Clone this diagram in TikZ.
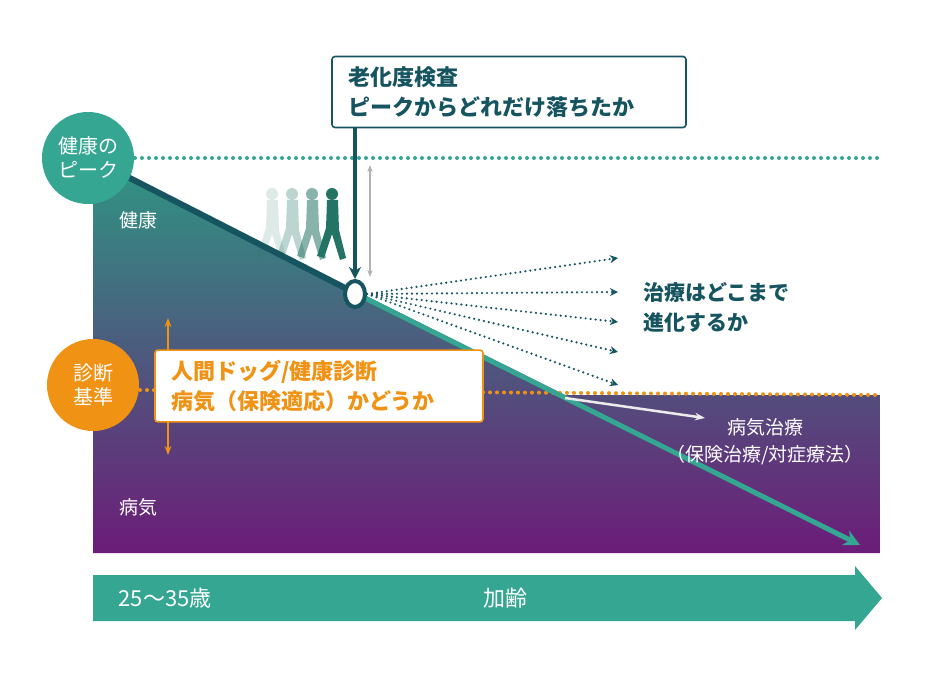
\documentclass[tikz,border=0pt]{standalone}
\usepackage{fontspec}
\setmainfont{Noto Sans CJK JP}
\usetikzlibrary{arrows.meta,positioning,calc,shapes.geometric}
\definecolor{tealA}{RGB}{52,166,146}
\definecolor{tealD}{RGB}{22,84,96}
\definecolor{orgA}{RGB}{240,146,20}
\definecolor{purA}{RGB}{108,28,120}
\definecolor{greyT}{RGB}{70,80,90}

\begin{document}
\begin{tikzpicture}[x=1pt,y=-1pt, every node/.style={font=\fontsize{19}{23}\selectfont},
  badge/.style={circle,minimum size=92pt,inner sep=0pt,align=center,text=white,font=\fontsize{20}{24}\selectfont},
  note/.style={draw,rounded corners=3pt,line width=1.6pt,fill=white,align=left,inner xsep=16pt,inner ysep=10pt,font=\bfseries\fontsize{22}{30}\selectfont},
  dotline/.style={dash pattern=on 0pt off 7pt,line width=4pt,line cap=round},
  ray/.style={dash pattern=on 0pt off 5pt,line cap=round,line width=2.4pt,tealD,-{Stealth[length=8pt,width=8pt]}},
  walker/.style={fill=tealA}]
\useasboundingbox (0,0) rectangle (930,679);
% area
\shade[top color=tealA!90!black, bottom color=purA]
  (93,160) -- (565,395) -- (880,395) -- (880,553) -- (93,553) -- cycle;
\draw[dotline,tealA] (135,158) -- (880,158);
\draw[dotline,orgA] (140,390) -- (880,395);
% figures
\foreach \x/\op in {262/0.15,282/0.3,302/0.55,322/1}{
  \begin{scope}[shift={(\x,190)},opacity=\op]
    \fill[tealA!70!black] (10,4) circle (6);
    \fill[tealA!70!black] (5,10) -- (16,10) -- (17,40) -- (24,68) -- (18,70) -- (10,44) -- (2,68) -- (-5,66) -- (4,38) -- cycle;
  \end{scope}}
% main line
\draw[line width=5pt,tealA,-{Stealth[length=16pt,width=16pt]}] (355,293) -- (860,545);
\draw[line width=6pt,tealD] (120,173) -- (355,293);
\draw[gray!60,line width=1.2pt,{Stealth[length=7pt]}-{Stealth[length=7pt]}] (370,165) -- (370,277);
% nodes
\node[note,draw=tealD,text=tealD,text width=322pt] (exam) at (509,92) {老化度検査\\ピークからどれだけ落ちたか};
\node[draw=tealD,fill=white,line width=4pt,ellipse,minimum width=20pt,minimum height=26pt,inner sep=0pt] (ring) at (355,294) {};
\draw[tealD,line width=4pt,-{Stealth[length=12pt,width=12pt]}] (exam.south -| ring) -- (ring.north);
\foreach \y in {258,292,322,352,385}
  \draw[ray] (ring.east) -- (618,\y);
\node[tealD,font=\bfseries\fontsize{21}{30}\selectfont,align=left,anchor=west] (evo) at (640,307) {治療はどこまで\\進化するか};
\node[badge,fill=tealA] (peak) at (88,158) {健康の\\ピーク};
\node[badge,fill=orgA] (diag) at (93,385) {診断\\基準};
\draw[orgA,line width=2pt,{Stealth[length=9pt]}-{Stealth[length=9pt]}] (168,318) -- (168,455);
\node[note,draw=orgA,text=orgA,text width=296pt] (dock) at (319,386) {人間ドッグ/健康診断\\病気（保険適応）かどうか};
\node[white] (health) at (138,220) {健康};
\node[white] (sick) at (138,507) {病気};
\coordinate (tstart) at (565,398);
\node[white,align=center,font=\fontsize{19}{27}\selectfont] (treat) at (765,442) {病気治療\\（保険治療/対症療法）};
\draw[white!85!gray,line width=2.5pt,-{Stealth[length=10pt]}] (tstart) -- (705,418);
% age arrow
\fill[tealA] (93,575) -- (855,575) -- (855,566) -- (882,598) -- (855,630) -- (855,621) -- (93,621) -- cycle;
\node[white,font=\fontsize{22}{26}\selectfont] (age0) at (165,598) {25〜35歳};
\node[white,font=\fontsize{22}{26}\selectfont] (aging) at (505,598) {加齢};
\end{tikzpicture}
\end{document}
